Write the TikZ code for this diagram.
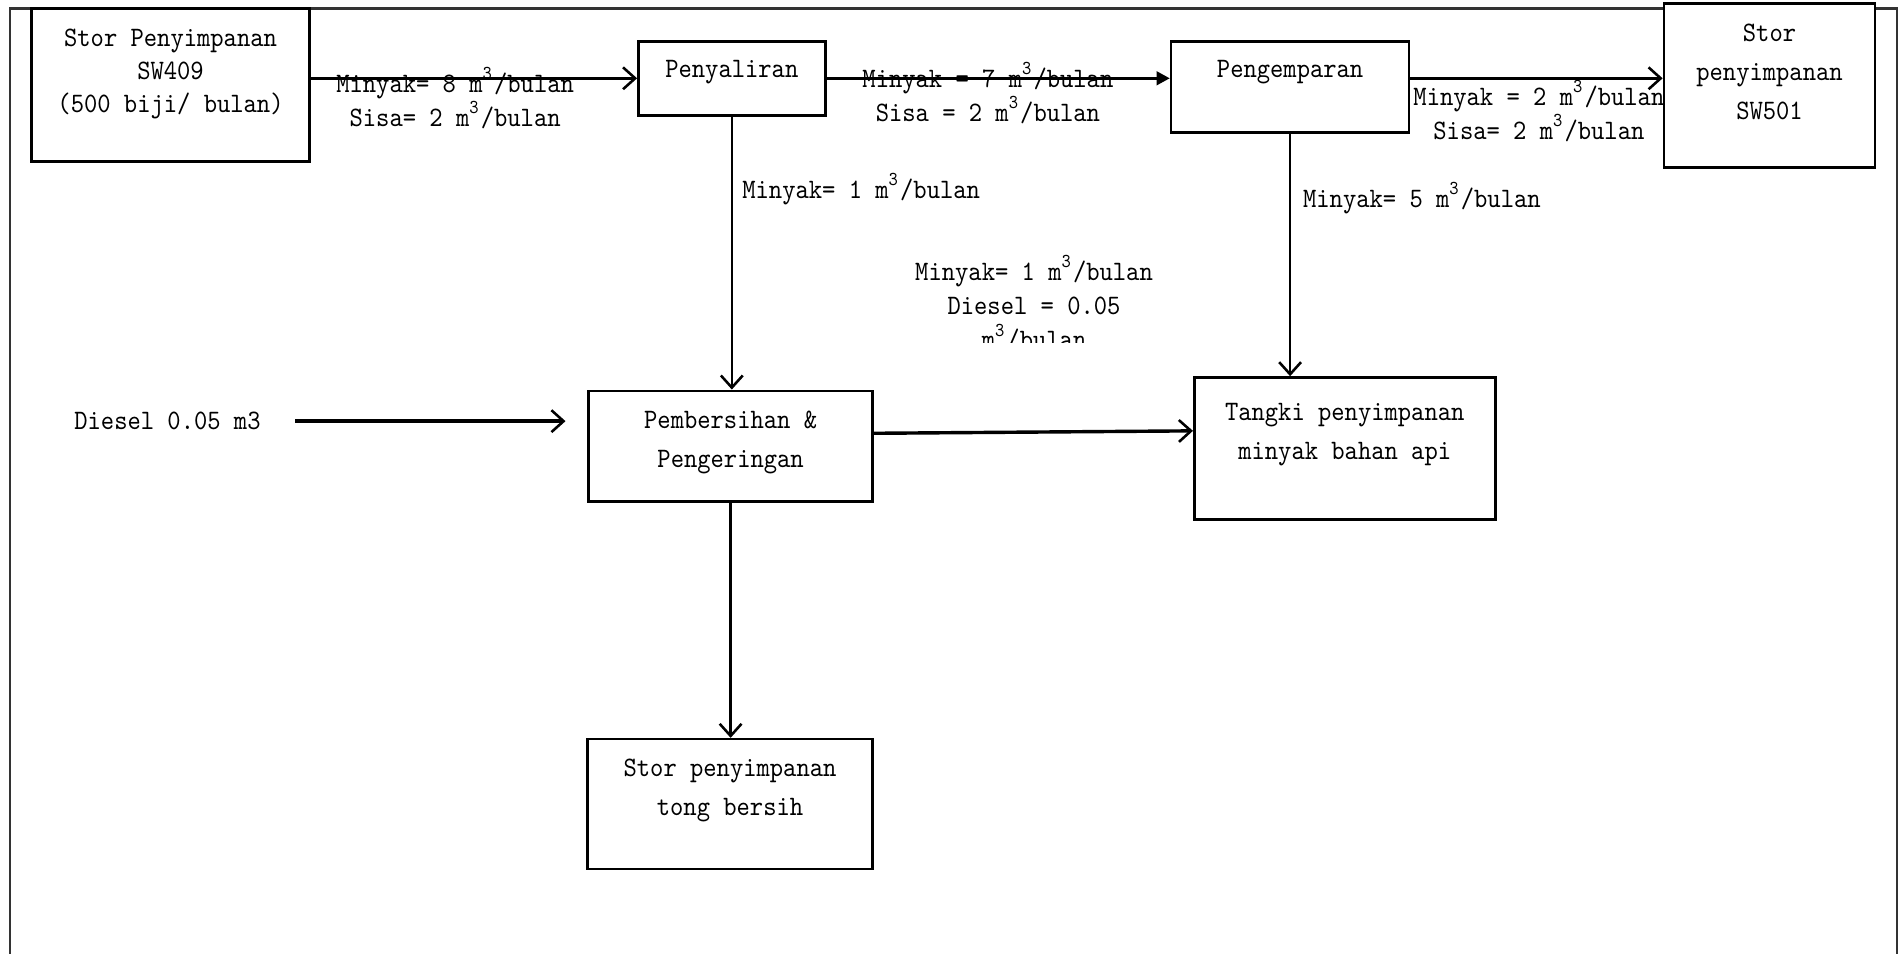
\documentclass[tikz,border=0pt]{standalone}
\usepackage{fontspec}
\setmainfont{lmmono10-regular.otf}[FakeStretch=0.9]
\usetikzlibrary{arrows.meta,calc}
\newcommand{\mkubik}{m\textsuperscript{3}/bulan}
\tikzset{
	blok/.style={draw, line width=0.6pt, fill=white, inner sep=0pt},
	bloktext/.style={anchor=north, align=center, inner sep=0pt, font=\fontsize{6.6}{9.1}\selectfont},
	ket/.style={align=center, inner sep=0pt, font=\fontsize{6.6}{8}\selectfont},
	aliran/.style={line width=0.6pt, -{Straight Barb[length=1mm,width=1.8mm,line width=0.6pt]}},
	aliranatas/.style={aliran, line width=0.8pt},
}

\begin{document}
\begin{tikzpicture}[x=0.1mm, y=-0.1mm]
		%%%%% START %%%%%
		\useasboundingbox (0,0) rectangle (1568,786);
		
		\draw[line width=0.5pt, color=black!80] (8,786) -- (8,7) -- (1563,7) -- (1563,786);
		
		% kotak proses
		\node[blok, minimum width=22.9mm, minimum height=12.6mm] (sw409) at (140.5,70) {};
		\node[blok, minimum width=15.4mm, minimum height=6.1mm] (penyaliran) at (603,64.5) {};
		\node[blok, minimum width=19.6mm, minimum height=7.5mm] (pengemparan) at (1063,71.5) {};
		\node[blok, minimum width=17.4mm, minimum height=13.5mm] (sw501) at (1458,70.5) {};
		\node[blok, minimum width=23.4mm, minimum height=9.1mm] (pembersihan) at (602,367.5) {};
		\node[blok, minimum width=24.8mm, minimum height=11.7mm] (tangki) at (1108,369.5) {};
		\node[blok, minimum width=23.5mm, minimum height=10.7mm] (tong) at (601.5,662.5) {};
		
		\node[bloktext, font=\fontsize{6.6}{7.8}\selectfont] (sw409txt) at ([yshift=-1.7mm]sw409.north) {Stor Penyimpanan\\SW409\\(500 biji/ bulan)};
		\node[bloktext] (penyalirantxt) at ([yshift=-1.6mm]penyaliran.north) {Penyaliran};
		\node[bloktext] (pengemparantxt) at ([yshift=-1.6mm]pengemparan.north) {Pengemparan};
		\node[bloktext] (sw501txt) at ([yshift=-1.7mm]sw501.north) {Stor\\penyimpanan\\SW501};
		\node[bloktext] (pembersihantxt) at ([yshift=-1.7mm]pembersihan.north) {Pembersihan \&\\Pengeringan};
		\node[bloktext] (tangkitxt) at ([yshift=-2.2mm]tangki.north) {Tangki penyimpanan\\minyak bahan api};
		\node[bloktext] (tongtxt) at ([yshift=-1.7mm]tong.north) {Stor penyimpanan\\tong bersih};
		
		\node[ket] (diesel) at (138,347) {Diesel 0.05 m3};
		
		% aliran
		\draw[aliranatas] (sw409.east |- penyaliran.west) -- (penyaliran.west);
		\draw[line width=0.8pt, -{Triangle[length=1.1mm,width=1.1mm]}] (penyaliran.east) -- (pengemparan.west |- penyaliran.east);
		\draw[aliranatas] (pengemparan.east |- penyaliran.east) -- (sw501.west |- penyaliran.east);
		\draw[aliran] (penyaliran.south) -- (penyaliran.south |- pembersihan.north);
		\draw[aliran] (pengemparan.south) -- (pengemparan.south |- tangki.north);
		\draw[aliranatas, shorten <=2.8mm, shorten >=1.8mm] (diesel.east) -- (diesel.east -| pembersihan.west);
		\draw[aliranatas] ([yshift=1.05mm]pembersihan.east) -- ([yshift=1.45mm]tangki.west);
		\draw[aliran] (pembersihan.south) -- (pembersihan.south |- tong.north);
		
		% keterangan
		\node[ket] (ket1) at (375,81) {Minyak= 8 \mkubik\\Sisa= 2 \mkubik};
		\node[ket] (ket2) at (814,76.5) {Minyak = 7 \mkubik\\Sisa = 2 \mkubik};
		\node[ket] (ket3) at (1268,91.5) {Minyak = 2 \mkubik\\Sisa= 2 \mkubik};
		\node[ket, anchor=west] (ket4) at (611,156) {Minyak= 1 \mkubik};
		\node[ket, anchor=west] (ket5) at (1073,163) {Minyak= 5 \mkubik};
		\begin{scope}
			\clip (700,195) rectangle (1000,282);
			\node[ket] (ket6) at (852,250) {Minyak= 1 \mkubik\\Diesel = 0.05\\\mkubik};
		\end{scope}
		
		%%%%% END %%%%%
\end{tikzpicture}
\end{document}
